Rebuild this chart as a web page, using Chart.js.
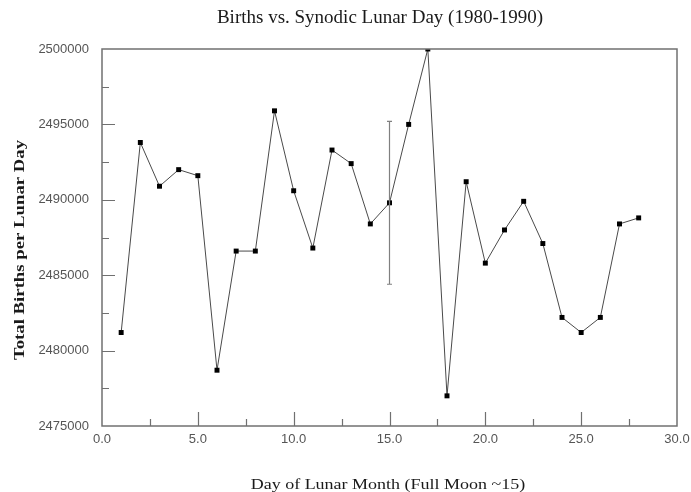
<!DOCTYPE html>
<html>
<head>
<meta charset="utf-8">
<script src="https://cdn.jsdelivr.net/npm/chart.js@4.4.0/dist/chart.umd.min.js"></script>
<style>
  html, body { margin: 0; padding: 0; background: #ffffff; }
  #wrap { width: 691px; height: 492px; position: relative; }
</style>
</head>
<body>
<div id="wrap"><canvas id="c" width="691" height="492"></canvas></div>
<script>
// ---- data ----
const chartTitle = "Births vs. Synodic Lunar Day (1980-1990)";
const xTitle = "Day of Lunar Month (Full Moon ~15)";
const yTitle = "Total Births per Lunar Day";
const days = [1, 2, 3, 4, 5, 6, 7, 8, 9, 10, 11, 12, 13, 14, 15, 16, 17, 18, 19, 20, 21, 22, 23, 24, 25, 26, 27, 28];
const births = [2481200, 2493800, 2490900, 2492000, 2491600, 2478700, 2486600, 2486600, 2495900, 2490600,
                2486800, 2493300, 2492400, 2488400, 2489800, 2495000, 2500000, 2477000, 2491200, 2485800,
                2488000, 2489900, 2487100, 2482200, 2481200, 2482200, 2488400, 2488800];
const errorDays = [15];
const errorLow = [2484400];
const errorHigh = [2495200];
const xTicks = [0, 5, 10, 15, 20, 25, 30];
const yTicks = [2475000, 2480000, 2485000, 2490000, 2495000, 2500000];
const xMinorStep = 2.5;
const yMinorStep = 2500;

const AXIS_COLOR = '#707070';
const SERIF = '"Liberation Serif", "Times New Roman", serif';

const framePlugin = {
  id: 'frame',
  afterDatasetsDraw(chart) {
    const ctx = chart.ctx;
    const xs = chart.scales.x, ys = chart.scales.y;
    ctx.save();
    ctx.strokeStyle = '#808080';
    ctx.lineWidth = 1.2;
    for (let i = 0; i < errorDays.length; i++) {
      const px = xs.getPixelForValue(errorDays[i]);
      const pl = ys.getPixelForValue(errorLow[i]);
      const ph = ys.getPixelForValue(errorHigh[i]);
      ctx.beginPath();
      ctx.moveTo(px, pl); ctx.lineTo(px, ph);
      ctx.moveTo(px - 2.5, pl); ctx.lineTo(px + 2.5, pl);
      ctx.moveTo(px - 2.5, ph); ctx.lineTo(px + 2.5, ph);
      ctx.stroke();
    }
    ctx.restore();
  },
  afterDraw(chart) {
    const ctx = chart.ctx;
    const a = chart.chartArea;
    const xs = chart.scales.x, ys = chart.scales.y;
    ctx.save();
    ctx.strokeStyle = AXIS_COLOR;
    ctx.lineWidth = 1.5;
    ctx.strokeRect(a.left, a.top, a.right - a.left, a.bottom - a.top);
    ctx.lineWidth = 1.2;
    ctx.beginPath();
    for (let v = xs.min; v <= xs.max + 1e-9; v += xMinorStep) {
      if (v === xs.min || v === xs.max) continue;
      const major = xTicks.includes(v);
      const px = Math.round(xs.getPixelForValue(v)) + 0.5;
      ctx.moveTo(px, a.bottom);
      ctx.lineTo(px, a.bottom - (major ? 14 : 7));
    }
    for (let v = ys.min; v <= ys.max + 1e-9; v += yMinorStep) {
      if (v === ys.min || v === ys.max) continue;
      const major = yTicks.includes(v);
      const py = Math.round(ys.getPixelForValue(v)) + 0.5;
      ctx.moveTo(a.left, py);
      ctx.lineTo(a.left + (major ? 13 : 7), py);
    }
    ctx.stroke();

    ctx.fillStyle = '#1a1a1a';
    ctx.textAlign = 'center';
    ctx.textBaseline = 'middle';

    // main title
    ctx.font = '19px ' + SERIF;
    ctx.fillText(chartTitle, 380, 18);

    // x title (wide serif lettering)
    ctx.save();
    ctx.translate(388, 485);
    ctx.scale(1.2, 1);
    ctx.font = '15px ' + SERIF;
    ctx.fillText(xTitle, 0, 0);
    ctx.restore();

    // y title
    ctx.save();
    ctx.translate(20, 250);
    ctx.rotate(-Math.PI / 2);
    ctx.scale(1.25, 1);
    ctx.font = 'bold 15px ' + SERIF;
    ctx.fillText(yTitle, 0, 0);
    ctx.restore();

    ctx.restore();
  }
};

new Chart(document.getElementById('c'), {
  type: 'line',
  data: {
    datasets: [{
      data: days.map((d, i) => ({ x: d, y: births[i] })),
      borderColor: '#4a4a4a',
      borderWidth: 1,
      pointStyle: 'rect',
      pointRadius: 3.5,
      pointBackgroundColor: '#000000',
      pointBorderColor: '#000000',
      pointBorderWidth: 0,
      tension: 0,
      fill: false
    }]
  },
  options: {
    responsive: false,
    animation: false,
    devicePixelRatio: 1,
    layout: { padding: { top: 49, right: 14, bottom: 0, left: 0 } },
    plugins: {
      legend: { display: false },
      title: { display: false },
      tooltip: { enabled: false }
    },
    scales: {
      x: {
        type: 'linear',
        min: 0, max: 30,
        afterFit: (s) => { s.height = 66; s.paddingLeft = 0; s.paddingRight = 0; },
        afterBuildTicks: (s) => { s.ticks = xTicks.map(v => ({ value: v })); },
        grid: { display: true, drawOnChartArea: false, drawTicks: false },
        border: { display: false },
        ticks: {
          color: '#555555',
          font: { family: '"Liberation Sans", Arial, sans-serif', size: 13 },
          padding: 6,
          maxRotation: 0,
          callback: (v) => Number(v).toFixed(1)
        }
      },
      y: {
        type: 'linear',
        min: 2475000, max: 2500000,
        afterFit: (s) => { s.width = 102; s.paddingTop = 0; s.paddingBottom = 0; },
        afterBuildTicks: (s) => { s.ticks = yTicks.map(v => ({ value: v })); },
        grid: { display: true, drawOnChartArea: false, drawTicks: false },
        border: { display: false },
        ticks: {
          color: '#555555',
          font: { family: '"Liberation Sans", Arial, sans-serif', size: 13 },
          padding: 13,
          callback: (v) => String(v)
        }
      }
    }
  },
  plugins: [framePlugin]
});
</script>
</body>
</html>
